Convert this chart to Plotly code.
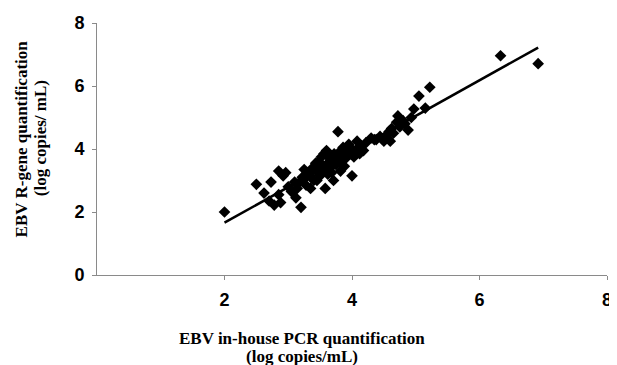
import numpy as np
import plotly.graph_objects as go

# Data (log copies/mL)
pcr_x = [2.00, 2.50, 2.62, 2.73, 2.78, 2.85, 2.88, 2.85, 2.92, 2.96, 2.70, 3.00, 3.05, 3.12,
         3.20, 3.14, 3.18, 3.25, 3.28, 3.30, 3.35, 3.38, 3.40, 3.43, 3.45, 3.48, 3.50, 3.52,
         3.55, 3.56, 3.58, 3.60, 3.62, 3.65, 3.66, 3.70, 3.71, 3.72, 3.75, 3.78, 3.78, 3.80,
         3.82, 3.84, 3.86, 3.88, 3.90, 3.92, 3.95, 3.97, 4.00, 4.00, 4.03, 4.05, 4.08, 4.10,
         4.15, 4.18, 4.22, 4.30, 4.38, 4.44, 4.50, 4.55, 4.60, 4.62, 4.65, 4.70, 4.72, 4.75,
         4.80, 4.83, 4.88, 4.93, 4.97, 5.05, 5.15, 5.22, 6.33, 6.92,
         3.10, 3.22, 3.50, 3.68, 3.88, 4.12, 4.35, 4.58, 3.35, 3.45, 3.62, 3.25]
rgene_y = [2.00, 2.88, 2.60, 2.95, 2.22, 2.55, 2.30, 3.30, 3.15, 3.25, 2.35, 2.80, 2.65, 2.45,
           2.15, 2.75, 2.95, 3.05, 2.85, 3.25, 3.15, 3.40, 3.00, 3.55, 3.30, 3.60, 3.45, 3.75,
           3.35, 3.85, 2.75, 3.95, 3.55, 3.70, 3.40, 3.60, 3.00, 3.85, 3.50, 4.55, 3.75, 3.90,
           3.30, 3.65, 4.05, 3.80, 3.70, 3.95, 4.15, 3.85, 3.15, 4.00, 3.75, 3.90, 4.25, 4.05,
           4.10, 3.95, 4.20, 4.35, 4.30, 4.40, 4.25, 4.45, 4.25, 4.65, 4.50, 4.85, 5.05, 4.70,
           4.90, 4.80, 4.60, 5.00, 5.27, 5.68, 5.30, 5.96, 6.96, 6.71,
           2.95, 3.10, 3.15, 3.25, 3.45, 3.85, 4.30, 4.55, 2.75, 3.00, 3.20, 3.35]

# Regression line parameters
fit_slope = 1.13
fit_intercept = -0.60

x_ticks = [2, 4, 6, 8]
y_ticks = [0, 2, 4, 6, 8]

x_title = ["EBV in-house PCR quantification", "(log copies/mL)"]
y_title = ["EBV R-gene quantification", "(log copies/ mL)"]

line_x = np.array([min(pcr_x), max(pcr_x)])
line_y = fit_slope * line_x + fit_intercept

fig = go.Figure()
fig.add_trace(go.Scatter(x=pcr_x, y=rgene_y, mode="markers",
                         marker=dict(symbol="diamond", size=9, color="black"),
                         showlegend=False))
fig.add_trace(go.Scatter(x=line_x, y=line_y, mode="lines",
                         line=dict(color="black", width=2.5), showlegend=False))

tick_font = dict(family="Liberation Sans, Arial", size=18, color="black", weight="bold")
fig.update_xaxes(range=[0, 8], tickvals=x_ticks, ticktext=[str(v) for v in x_ticks],
                 showgrid=False, zeroline=False, showline=True, linecolor="#8a8a8a", linewidth=1,
                 ticks="outside", ticklen=4, tickcolor="#8a8a8a", tickfont=tick_font,
                 ticklabelstandoff=4, ticklabeloverflow="allow")
fig.update_yaxes(range=[0, 8], tickvals=y_ticks, ticktext=[str(v) for v in y_ticks],
                 showgrid=False, zeroline=False, showline=True, linecolor="#8a8a8a", linewidth=1,
                 ticks="outside", ticklen=4, tickcolor="#8a8a8a", tickfont=tick_font,
                 ticklabelstandoff=4, ticklabeloverflow="allow")

title_font = dict(family="Liberation Serif, Times New Roman", size=17, color="black", weight="bold")
for txt, yy in zip(x_title, [-0.251, -0.322]):
    fig.add_annotation(text=txt, xref="paper", yref="paper", x=0.402, y=yy,
                       xanchor="center", yanchor="middle", showarrow=False, font=title_font)
for txt, xx in zip(y_title, [-0.1476, -0.1107]):
    fig.add_annotation(text=txt, xref="paper", yref="paper", x=xx, y=0.541,
                       xanchor="center", yanchor="middle", showarrow=False, font=title_font,
                       textangle=-90)

# page body has an 8px margin, so the figure is shifted by 8px
fig.update_layout(width=609, height=357, margin=dict(l=89, r=5, t=12, b=90),
                  plot_bgcolor="white", paper_bgcolor="white")
fig.write_html("out.html")
